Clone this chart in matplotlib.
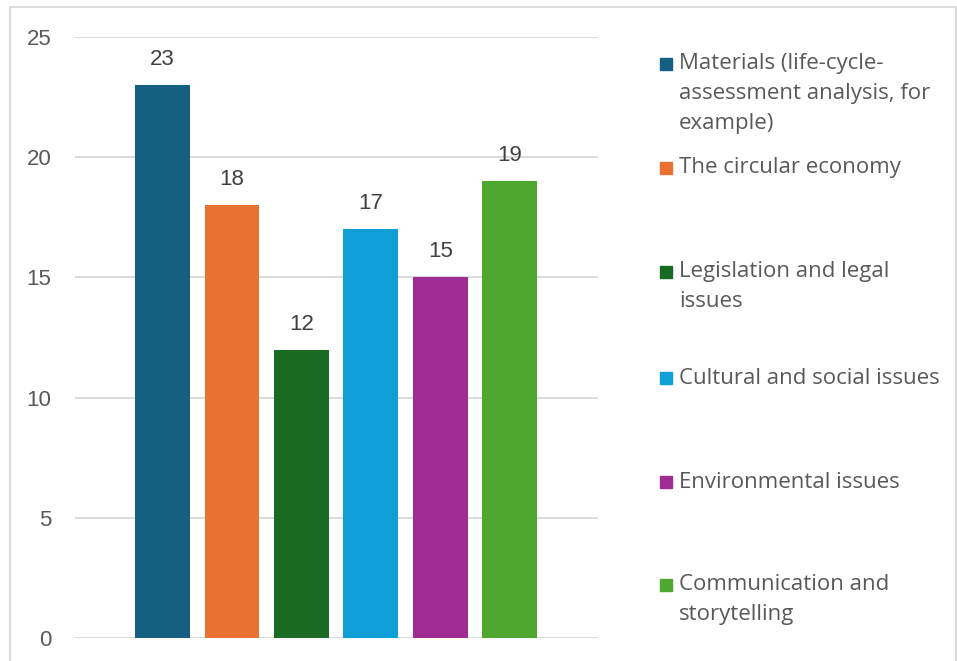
import matplotlib.pyplot as plt
from matplotlib.patches import Rectangle

labels = ["Materials (life-cycle-\nassessment analysis, for\nexample)",
          "The circular economy",
          "Legislation and legal\nissues",
          "Cultural and social issues",
          "Environmental issues",
          "Communication and\nstorytelling"]
values = [23, 18, 12, 17, 15, 19]
colors = ["#156082", "#E97132", "#196B24", "#0F9ED5", "#A02B93", "#4EA72E"]

W, H = 957, 661
fig = plt.figure(figsize=(W/100, H/100), dpi=100)
ax = fig.add_axes([75/W, 1-638/H, (598-75)/W, (638-37)/H])

x = list(range(len(values)))
ax.bar(x, values, width=0.79, color=colors, zorder=3)
for xi, v in zip(x, values):
    ax.text(xi, v + 0.62, str(v), ha='center', va='bottom', fontsize=16,
            color='#404040', family='Liberation Sans')

ax.set_xlim(-1.26, 6.27)
ax.set_ylim(0, 25)
ax.set_yticks([0, 5, 10, 15, 20, 25])
ax.set_xticks([])
ax.yaxis.grid(True, color='#d9d9d9', linewidth=1.3, zorder=0)
for s in ax.spines.values():
    s.set_visible(False)
ax.tick_params(axis='y', length=0, pad=17, labelsize=16, labelcolor='#595959')
for t in ax.get_yticklabels():
    t.set_family('Liberation Sans')

# legend drawn by hand, first line of each entry at these pixel rows
first_rows = [64, 168, 272, 378, 482, 585]
line_h = 29.5
for lab, c, y0 in zip(labels, colors, first_rows):
    fig.patches.append(Rectangle((660/W, 1-(y0+6)/H), 12/W, 12/H,
                                 transform=fig.transFigure, color=c))
    for k, line in enumerate(lab.split("\n")):
        fig.text(679/W, 1-(y0 + k*line_h)/H, line, ha='left', va='center',
                 fontsize=16, color='#595959', family='Open Sans')

fig.patches.append(Rectangle((10/W, -0.05), (946)/W, 1.05-7/H,
                             transform=fig.transFigure, fill=False,
                             edgecolor='#d9d9d9', linewidth=1.3))

fig.savefig("out.png", dpi=100)
